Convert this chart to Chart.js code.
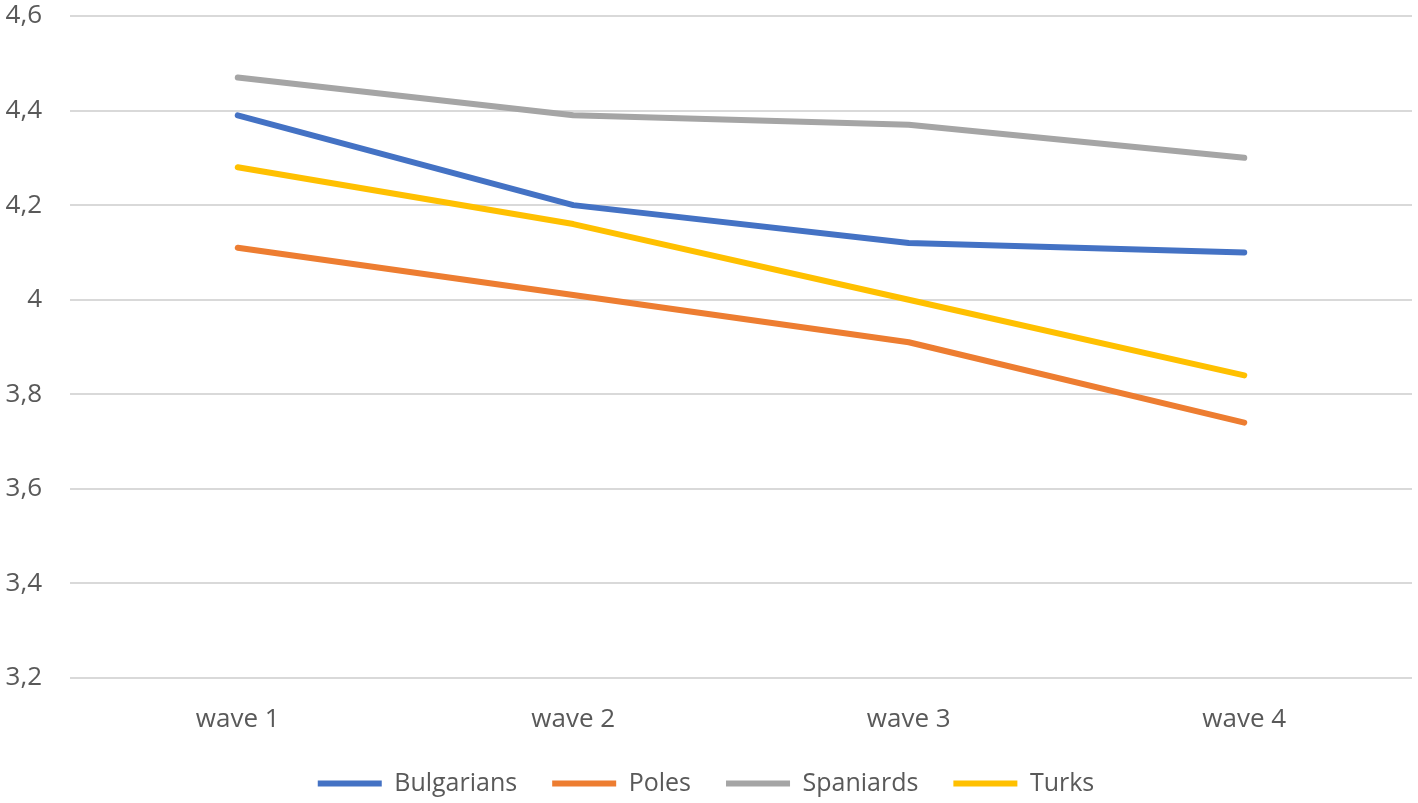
<!DOCTYPE html>
<html>
<head>
<meta charset="utf-8">
<script src="https://cdn.jsdelivr.net/npm/chart.js"></script>
<style>
  html, body { margin: 0; padding: 0; background: #fff; }
  #wrap { width: 1418px; height: 803px; }
</style>
</head>
<body>
<div id="wrap"><canvas id="chart"></canvas></div>
<script>
// chart data
const waves = ['wave 1', 'wave 2', 'wave 3', 'wave 4'];
const bulgarians = [4.39, 4.20, 4.12, 4.10];
const poles = [4.11, 4.01, 3.91, 3.74];
const spaniards = [4.47, 4.39, 4.37, 4.30];
const turks = [4.28, 4.16, 4.00, 3.84];
const yTicks = [3.2, 3.4, 3.6, 3.8, 4, 4.2, 4.4, 4.6];

const textColor = '#595959';
const tickFont = { family: "'Open Sans', sans-serif", size: 26 };
const legendFont = { family: "'Open Sans', sans-serif", size: 25 };

function series(label, data, color) {
    return {
        label: label,
        data: data,
        borderColor: color,
        backgroundColor: color,
        borderWidth: 6,
        borderCapStyle: 'round',
        borderJoinStyle: 'round',
        pointRadius: 0,
        pointHoverRadius: 0,
        pointStyle: 'line',
        tension: 0
    };
}

new Chart(document.getElementById('chart'), {
    type: 'line',
    data: {
        labels: waves,
        datasets: [
            series('Bulgarians', bulgarians, '#4472C4'),
            series('Poles', poles, '#ED7D31'),
            series('Spaniards', spaniards, '#A5A5A5'),
            series('Turks', turks, '#FFC000')
        ]
    },
    options: {
        responsive: true,
        maintainAspectRatio: false,
        animation: false,
        layout: { padding: { top: 16, right: 6, bottom: -3, left: 0 } },
        plugins: {
            tooltip: { enabled: false },
            legend: {
                position: 'bottom',
                labels: {
                    usePointStyle: true,
                    pointStyleWidth: 64,
                    color: textColor,
                    font: legendFont,
                    padding: 35
                }
            }
        },
        scales: {
            x: {
                offset: true,
                grid: { display: false, drawTicks: false },
                border: { display: false },
                ticks: { color: textColor, font: tickFont, padding: 26 },
                afterFit: (axis) => { axis.height = 58; }
            },
            y: {
                min: 3.2,
                max: 4.6,
                afterBuildTicks: (axis) => {
                    axis.ticks = yTicks.map(v => ({ value: v }));
                },
                afterFit: (axis) => {
                    axis.width = 70;
                    axis.paddingTop = 0;
                    axis.paddingBottom = 0;
                },
                grid: { color: '#D9D9D9', lineWidth: 2, drawTicks: false },
                border: { display: false },
                ticks: {
                    color: textColor,
                    font: tickFont,
                    padding: 28,
                    callback: (v) => String(Math.round(v * 10) / 10).replace('.', ',')
                }
            }
        }
    }
});
</script>
</body>
</html>
